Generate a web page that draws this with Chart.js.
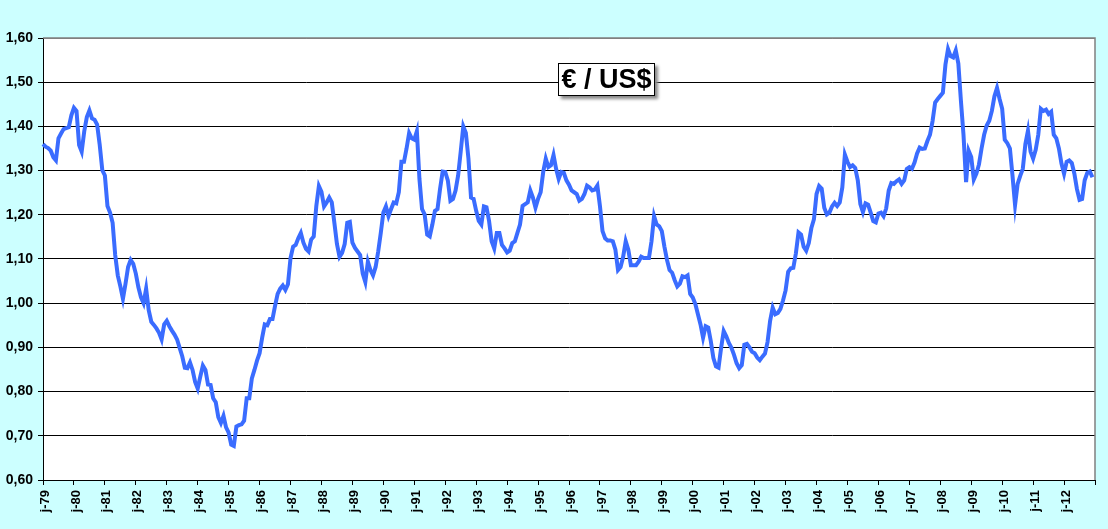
<!DOCTYPE html>
<html>
<head>
<meta charset="utf-8">
<script src="https://cdn.jsdelivr.net/npm/chart.js@4.4.0/dist/chart.umd.min.js"></script>
<style>
  html, body { margin: 0; padding: 0; background: #ccffff; }
  #wrap { position: relative; width: 1108px; height: 529px; }
  #title {
    position: absolute; left: 558px; top: 63px; width: 95px; height: 31px;
    background: #fff; border: 1px solid #000; box-shadow: 3px 3px 3px #8a8a8a;
    font: bold 27px "Liberation Sans", Arial, sans-serif; color: #000;
    display: flex; align-items: center; justify-content: center; line-height: 1;
  }
</style>
</head>
<body>
<div id="wrap">
  <canvas id="chart" width="1108" height="529"></canvas>
  <div id="title">€ / US$</div>
</div>
<script>
// monthly € / US$ rate, jan..dec
const r1979 = [1.360, 1.354, 1.351, 1.345, 1.330, 1.323, 1.373, 1.384, 1.394, 1.396, 1.398, 1.425];
const r1980 = [1.442, 1.435, 1.358, 1.343, 1.389, 1.421, 1.436, 1.418, 1.415, 1.404, 1.358, 1.301];
const r1981 = [1.289, 1.220, 1.205, 1.182, 1.109, 1.063, 1.038, 1.010, 1.044, 1.082, 1.098, 1.089];
const r1982 = [1.067, 1.036, 1.013, 1.000, 1.033, 0.984, 0.958, 0.951, 0.943, 0.933, 0.918, 0.952];
const r1983 = [0.960, 0.948, 0.938, 0.929, 0.918, 0.899, 0.880, 0.854, 0.853, 0.866, 0.849, 0.822];
const r1984 = [0.807, 0.834, 0.859, 0.849, 0.816, 0.815, 0.785, 0.776, 0.742, 0.729, 0.745, 0.719];
const r1985 = [0.707, 0.680, 0.677, 0.721, 0.724, 0.726, 0.734, 0.785, 0.785, 0.830, 0.849, 0.870];
const r1986 = [0.887, 0.922, 0.952, 0.950, 0.964, 0.964, 0.994, 1.021, 1.033, 1.040, 1.030, 1.043];
const r1987 = [1.102, 1.128, 1.132, 1.147, 1.159, 1.137, 1.123, 1.117, 1.144, 1.151, 1.220, 1.265];
const r1988 = [1.252, 1.219, 1.228, 1.239, 1.228, 1.182, 1.134, 1.105, 1.114, 1.134, 1.182, 1.184];
const r1989 = [1.137, 1.125, 1.117, 1.109, 1.067, 1.048, 1.094, 1.075, 1.063, 1.082, 1.117, 1.159];
const r1990 = [1.205, 1.219, 1.197, 1.213, 1.228, 1.226, 1.251, 1.320, 1.320, 1.350, 1.385, 1.373];
const r1991 = [1.370, 1.389, 1.281, 1.213, 1.201, 1.155, 1.151, 1.178, 1.209, 1.213, 1.259, 1.298];
const r1992 = [1.297, 1.278, 1.232, 1.236, 1.255, 1.289, 1.343, 1.400, 1.385, 1.327, 1.239, 1.236];
const r1993 = [1.209, 1.186, 1.178, 1.219, 1.217, 1.186, 1.140, 1.124, 1.159, 1.159, 1.132, 1.124];
const r1994 = [1.115, 1.119, 1.136, 1.140, 1.159, 1.178, 1.220, 1.224, 1.228, 1.255, 1.239, 1.216];
const r1995 = [1.236, 1.251, 1.297, 1.327, 1.308, 1.312, 1.335, 1.304, 1.281, 1.297, 1.295, 1.278];
const r1996 = [1.268, 1.255, 1.251, 1.247, 1.232, 1.236, 1.247, 1.266, 1.262, 1.255, 1.257, 1.266];
const r1997 = [1.220, 1.163, 1.147, 1.142, 1.142, 1.140, 1.121, 1.075, 1.082, 1.105, 1.140, 1.121];
const r1998 = [1.086, 1.086, 1.086, 1.094, 1.105, 1.102, 1.102, 1.102, 1.140, 1.197, 1.178, 1.174];
const r1999 = [1.163, 1.128, 1.098, 1.075, 1.069, 1.052, 1.038, 1.044, 1.061, 1.059, 1.063, 1.021];
const r2000 = [1.013, 0.998, 0.975, 0.952, 0.922, 0.948, 0.945, 0.914, 0.876, 0.857, 0.854, 0.899];
const r2001 = [0.937, 0.925, 0.910, 0.899, 0.883, 0.864, 0.853, 0.860, 0.906, 0.908, 0.900, 0.890];
const r2002 = [0.887, 0.877, 0.871, 0.879, 0.886, 0.912, 0.960, 0.990, 0.975, 0.978, 0.987, 1.006];
const r2003 = [1.029, 1.071, 1.079, 1.080, 1.113, 1.160, 1.155, 1.128, 1.119, 1.136, 1.170, 1.190];
const r2004 = [1.247, 1.265, 1.259, 1.216, 1.201, 1.205, 1.219, 1.227, 1.220, 1.228, 1.262, 1.336];
const r2005 = [1.320, 1.308, 1.312, 1.306, 1.278, 1.224, 1.206, 1.226, 1.223, 1.205, 1.186, 1.183];
const r2006 = [1.203, 1.205, 1.197, 1.214, 1.255, 1.272, 1.270, 1.276, 1.280, 1.270, 1.278, 1.304];
const r2007 = [1.308, 1.304, 1.318, 1.339, 1.352, 1.349, 1.350, 1.367, 1.381, 1.412, 1.454, 1.462];
const r2008 = [1.469, 1.476, 1.540, 1.575, 1.559, 1.556, 1.572, 1.542, 1.458, 1.381, 1.274, 1.345];
const r2009 = [1.331, 1.280, 1.293, 1.314, 1.350, 1.381, 1.402, 1.413, 1.435, 1.468, 1.487, 1.462];
const r2010 = [1.440, 1.370, 1.362, 1.350, 1.289, 1.222, 1.270, 1.288, 1.304, 1.360, 1.390, 1.343];
const r2011 = [1.327, 1.347, 1.381, 1.440, 1.435, 1.438, 1.428, 1.433, 1.381, 1.373, 1.350, 1.316];
const r2012 = [1.293, 1.320, 1.323, 1.317, 1.293, 1.258, 1.234, 1.236, 1.278, 1.295, 1.298, 1.285];

const years = [1979, 1980, 1981, 1982, 1983, 1984, 1985, 1986, 1987, 1988, 1989, 1990,
  1991, 1992, 1993, 1994, 1995, 1996, 1997, 1998, 1999, 2000, 2001, 2002, 2003, 2004,
  2005, 2006, 2007, 2008, 2009, 2010, 2011, 2012, 2013];
const monthInitials = ["j", "f", "m", "a", "m", "j", "j", "a", "s", "o", "n", "d"];
const yTicks = [0.6, 0.7, 0.8, 0.9, 1.0, 1.1, 1.2, 1.3, 1.4, 1.5, 1.6];

const rates = [].concat(r1979, r1980, r1981, r1982, r1983, r1984, r1985, r1986, r1987,
  r1988, r1989, r1990, r1991, r1992, r1993, r1994, r1995, r1996, r1997, r1998, r1999,
  r2000, r2001, r2002, r2003, r2004, r2005, r2006, r2007, r2008, r2009, r2010, r2011, r2012);

// month labels "j-79" ... ; the axis runs on to jan 2013 like the original
const labels = [];
years.forEach(y => {
  monthInitials.forEach(m => {
    if (labels.length <= rates.length) labels.push(m + "-" + String(y).slice(2));
  });
});

const font = "'Liberation Sans', Arial, sans-serif";

const plotFrame = {
  id: "plotFrame",
  beforeDraw(chart) {
    const a = chart.chartArea, ctx = chart.ctx;
    ctx.save();
    ctx.fillStyle = "#fff";
    ctx.fillRect(a.left, a.top, a.right - a.left, a.bottom - a.top);
    ctx.restore();
  },
  afterDraw(chart) {
    const a = chart.chartArea, ctx = chart.ctx;
    ctx.save();
    ctx.strokeStyle = "#808080";
    ctx.lineWidth = 1.5;
    ctx.beginPath();
    ctx.moveTo(a.left, a.top);
    ctx.lineTo(a.right, a.top);
    ctx.lineTo(a.right, a.bottom);
    ctx.stroke();
    ctx.restore();
  }
};

new Chart(document.getElementById("chart"), {
  type: "line",
  data: {
    labels: labels,
    datasets: [{
      data: rates,
      borderColor: "#3a6cff",
      borderWidth: 4,
      pointRadius: 0,
      tension: 0,
      fill: false
    }]
  },
  options: {
    responsive: false,
    animation: false,
    layout: { padding: { top: 38, right: 13, left: 0, bottom: 0 } },
    plugins: { legend: { display: false }, tooltip: { enabled: false } },
    scales: {
      x: {
        type: "category",
        offset: false,
        afterFit(scale) {
          scale.height = 49;
          scale.paddingLeft = 0;
          scale.paddingRight = 0;
        },
        grid: {
          drawOnChartArea: false,
          tickLength: 5,
          tickColor: ctx => (ctx.index % 12 === 0 ? "#000" : "rgba(0,0,0,0)")
        },
        border: { color: "#000", width: 1 },
        ticks: {
          autoSkip: false,
          minRotation: 90,
          maxRotation: 90,
          padding: 5,
          labelOffset: 2,
          color: "#000",
          font: { family: font, size: 13, weight: "bold" },
          callback: (v, i) => (i % 12 === 0 && i < rates.length ? labels[i] : "")
        }
      },
      y: {
        min: yTicks[0],
        max: yTicks[yTicks.length - 1],
        afterFit(scale) {
          scale.width = 43;
          scale.paddingTop = 0;
          scale.paddingBottom = 0;
        },
        afterBuildTicks(scale) { scale.ticks = yTicks.map(v => ({ value: v })); },
        grid: {
          color: ctx => (ctx.tick && ctx.tick.value > 1.55 ? "#808080" : "#000"),
          tickColor: "#000",
          tickLength: 5,
          lineWidth: 1
        },
        border: { color: "#000", width: 1 },
        ticks: {
          padding: 5,
          color: "#000",
          font: { family: font, size: 14, weight: "bold" },
          callback: v => Number(v).toFixed(2).replace(".", ",")
        }
      }
    }
  },
  plugins: [plotFrame]
});
</script>
</body>
</html>
